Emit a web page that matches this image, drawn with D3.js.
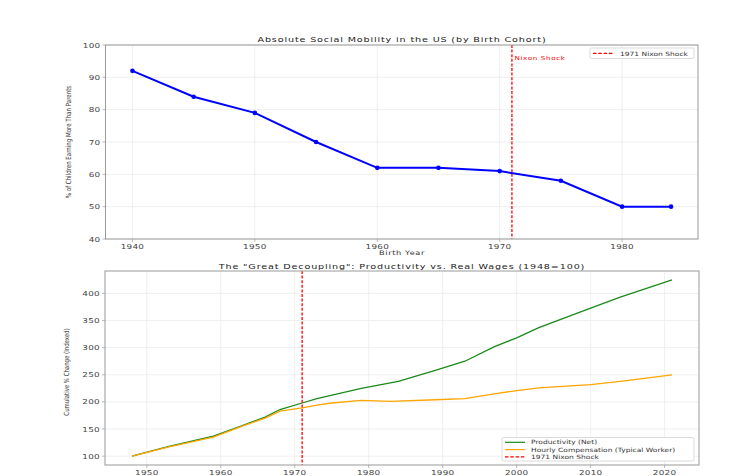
<!DOCTYPE html>
<html>
<head>
<meta charset="utf-8">
<script src="https://cdn.jsdelivr.net/npm/d3@7"></script>
<style>
html,body{margin:0;padding:0;background:#fff;}
svg{display:block;}
text{font-family:"DejaVu Sans",sans-serif;}
</style>
</head>
<body>
<svg id="chart" width="744" height="476"></svg>
<script>
// ---- Data ----
const cohortYears = [1940, 1945, 1950, 1955, 1960, 1965, 1970, 1975, 1980, 1984];
const mobilityPct = [92, 84, 79, 70, 62, 62, 61, 58, 50, 50];
const topXTicks = [1940, 1950, 1960, 1970, 1980];
const topYTicks = [40, 50, 60, 70, 80, 90, 100];

const prodYears = [1948, 1953, 1959, 1963, 1966, 1968, 1971, 1973, 1979, 1984, 1989, 1993, 1997, 2000, 2003, 2010, 2014, 2021];
const productivity = [100, 118, 137, 157, 172, 186, 198, 206, 225, 238, 258, 275, 302, 318, 337, 373, 393, 425];
const wageYears = [1948, 1953, 1959, 1963, 1966, 1968, 1971, 1973, 1975, 1979, 1983, 1989, 1993, 1997, 2000, 2003, 2010, 2014, 2021];
const compensation = [100, 117, 135, 156, 170, 183, 189, 194, 198, 203, 201, 204, 206, 215, 221, 226, 232, 238, 250];
const botXTicks = [1950, 1960, 1970, 1980, 1990, 2000, 2010, 2020];
const botYTicks = [100, 150, 200, 250, 300, 350, 400];
const shockYear = 1971;

const SX = 1.3; // horizontal stretch of glyphs in the reference
const svg = d3.select("#chart");

function txt(g, x, y, str, o) {
  o = o || {};
  const t = g.append("text")
    .attr("transform", `translate(${x},${y}) scale(${SX},1)` + (o.rot ? " rotate(-90)" : ""))
    .attr("font-size", o.size || 7)
    .attr("fill", o.fill || "#222")
    .attr("text-anchor", o.anchor || "start")
    .text(str);
  if (o.ls) t.attr("letter-spacing", o.ls);
  return t;
}

function panel(box, xDom, yDom, xTicks, yTicks) {
  const x = d3.scaleLinear().domain(xDom).range([box.l, box.r]);
  const y = d3.scaleLinear().domain(yDom).range([box.b, box.t]);
  const g = svg.append("g");
  g.selectAll(".gx").data(xTicks).enter().append("line")
    .attr("x1", d => x(d)).attr("x2", d => x(d)).attr("y1", box.t).attr("y2", box.b)
    .attr("stroke", "#ebebeb").attr("stroke-width", 0.8);
  g.selectAll(".gy").data(yTicks).enter().append("line")
    .attr("y1", d => y(d)).attr("y2", d => y(d)).attr("x1", box.l).attr("x2", box.r)
    .attr("stroke", "#ebebeb").attr("stroke-width", 0.8);
  g.selectAll(".tx").data(xTicks).enter().append("line")
    .attr("x1", d => x(d)).attr("x2", d => x(d)).attr("y1", box.b).attr("y2", box.b + 3)
    .attr("stroke", "#999").attr("stroke-width", 0.7);
  g.selectAll(".ty").data(yTicks).enter().append("line")
    .attr("y1", d => y(d)).attr("y2", d => y(d)).attr("x1", box.l - 3).attr("x2", box.l)
    .attr("stroke", "#999").attr("stroke-width", 0.7);
  xTicks.forEach(d => txt(g, x(d), box.b + 9.5, String(d), {anchor: "middle", size: 6.8, fill: "#444", ls: 0.2}));
  yTicks.forEach(d => txt(g, box.l - 5, y(d) + 2.5, String(d), {anchor: "end", size: 6.8, fill: "#444", ls: 0.2}));
  return {x, y, g, box};
}

function frame(p) {
  p.g.append("rect").attr("x", p.box.l).attr("y", p.box.t)
    .attr("width", p.box.r - p.box.l).attr("height", p.box.b - p.box.t)
    .attr("fill", "none").attr("stroke", "#999").attr("stroke-width", 1);
}

// ---- Top panel ----
const tx0 = d3.min(cohortYears), tx1 = d3.max(cohortYears), tpad = (tx1 - tx0) * 0.05;
const pTop = panel({l: 105.5, r: 698, t: 45, b: 239}, [tx0 - tpad, tx1 + tpad], [40, 100], topXTicks, topYTicks);
const topData = cohortYears.map((c, i) => ({c, v: mobilityPct[i]}));

pTop.g.append("line")
  .attr("x1", pTop.x(shockYear)).attr("x2", pTop.x(shockYear)).attr("y1", pTop.box.t).attr("y2", pTop.box.b)
  .attr("stroke", "red").attr("stroke-width", 1.3).attr("stroke-dasharray", "3,1.6");
pTop.g.append("path").datum(topData)
  .attr("d", d3.line().x(d => pTop.x(d.c)).y(d => pTop.y(d.v)))
  .attr("fill", "none").attr("stroke", "blue").attr("stroke-width", 2);
pTop.g.selectAll(".pt").data(topData).enter().append("circle")
  .attr("cx", d => pTop.x(d.c)).attr("cy", d => pTop.y(d.v)).attr("r", 2.3).attr("fill", "blue");
txt(pTop.g, pTop.x(shockYear) + 2.5, pTop.y(95) - 1, "Nixon Shock", {size: 5.5, fill: "red", ls: 0.5});
frame(pTop);
txt(svg, 402, 42, "Absolute Social Mobility in the US (by Birth Cohort)", {anchor: "middle", size: 7.4, fill: "#222", ls: 0.65});
txt(svg, 402, 255, "Birth Year", {anchor: "middle", size: 6.3, fill: "#333", ls: 0.5});
txt(svg, 71, 142, "% of Children Earning More Than Parents", {anchor: "middle", size: 5.5, rot: true, fill: "#333"});
const tl = pTop.g.append("g");
tl.append("rect").attr("x", 590).attr("y", 48).attr("width", 104).attr("height", 10.5).attr("rx", 1.5)
  .attr("fill", "#fff").attr("stroke", "#ccc").attr("stroke-width", 0.7);
tl.append("line").attr("x1", 593).attr("x2", 613).attr("y1", 53.3).attr("y2", 53.3)
  .attr("stroke", "red").attr("stroke-width", 1.2).attr("stroke-dasharray", "3.5,1.8");
txt(tl, 620, 55.5, "1971 Nixon Shock", {size: 5.8, fill: "#333"});

// ---- Bottom panel ----
const bx0 = d3.min(prodYears), bx1 = d3.max(prodYears), bpad = (bx1 - bx0) * 0.05;
const by0 = d3.min(productivity.concat(compensation)), by1 = d3.max(productivity.concat(compensation));
const bypad = (by1 - by0) * 0.05;
const pBot = panel({l: 105, r: 699, t: 271, b: 465}, [bx0 - bpad, bx1 + bpad], [by0 - bypad, by1 + bypad], botXTicks, botYTicks);
const prodData = prodYears.map((yr, i) => ({yr, v: productivity[i]}));
const wageData = wageYears.map((yr, i) => ({yr, v: compensation[i]}));
const ln = d3.line().x(d => pBot.x(d.yr)).y(d => pBot.y(d.v));
pBot.g.append("path").datum(prodData).attr("d", ln)
  .attr("fill", "none").attr("stroke", "#1a8a1a").attr("stroke-width", 1.3);
pBot.g.append("path").datum(wageData).attr("d", ln)
  .attr("fill", "none").attr("stroke", "orange").attr("stroke-width", 1.3);
pBot.g.append("line")
  .attr("x1", pBot.x(shockYear)).attr("x2", pBot.x(shockYear)).attr("y1", pBot.box.t).attr("y2", pBot.box.b)
  .attr("stroke", "red").attr("stroke-width", 1.3).attr("stroke-dasharray", "3,1.6");
frame(pBot);
txt(svg, 402, 268.5, "The \"Great Decoupling\": Productivity vs. Real Wages (1948=100)", {anchor: "middle", size: 7.4, fill: "#222", ls: 0.65});
txt(svg, 69, 372, "Cumulative % Change (Indexed)", {anchor: "middle", size: 5.4, rot: true, fill: "#333"});
const bl = pBot.g.append("g");
bl.append("rect").attr("x", 502).attr("y", 437.5).attr("width", 192).attr("height", 23.5).attr("rx", 1.5)
  .attr("fill", "#fff").attr("stroke", "#ccc").attr("stroke-width", 0.7);
const legendItems = [
  {label: "Productivity (Net)", color: "#1a8a1a", dash: null},
  {label: "Hourly Compensation (Typical Worker)", color: "orange", dash: null},
  {label: "1971 Nixon Shock", color: "red", dash: "3.5,1.8"}
];
legendItems.forEach((it, i) => {
  const yy = 442.3 + i * 7.3;
  const l = bl.append("line").attr("x1", 505).attr("x2", 525).attr("y1", yy).attr("y2", yy)
    .attr("stroke", it.color).attr("stroke-width", 1.2);
  if (it.dash) l.attr("stroke-dasharray", it.dash);
  txt(bl, 531, yy + 2, it.label, {size: 5.8, fill: "#333"});
});
</script>
</body>
</html>
